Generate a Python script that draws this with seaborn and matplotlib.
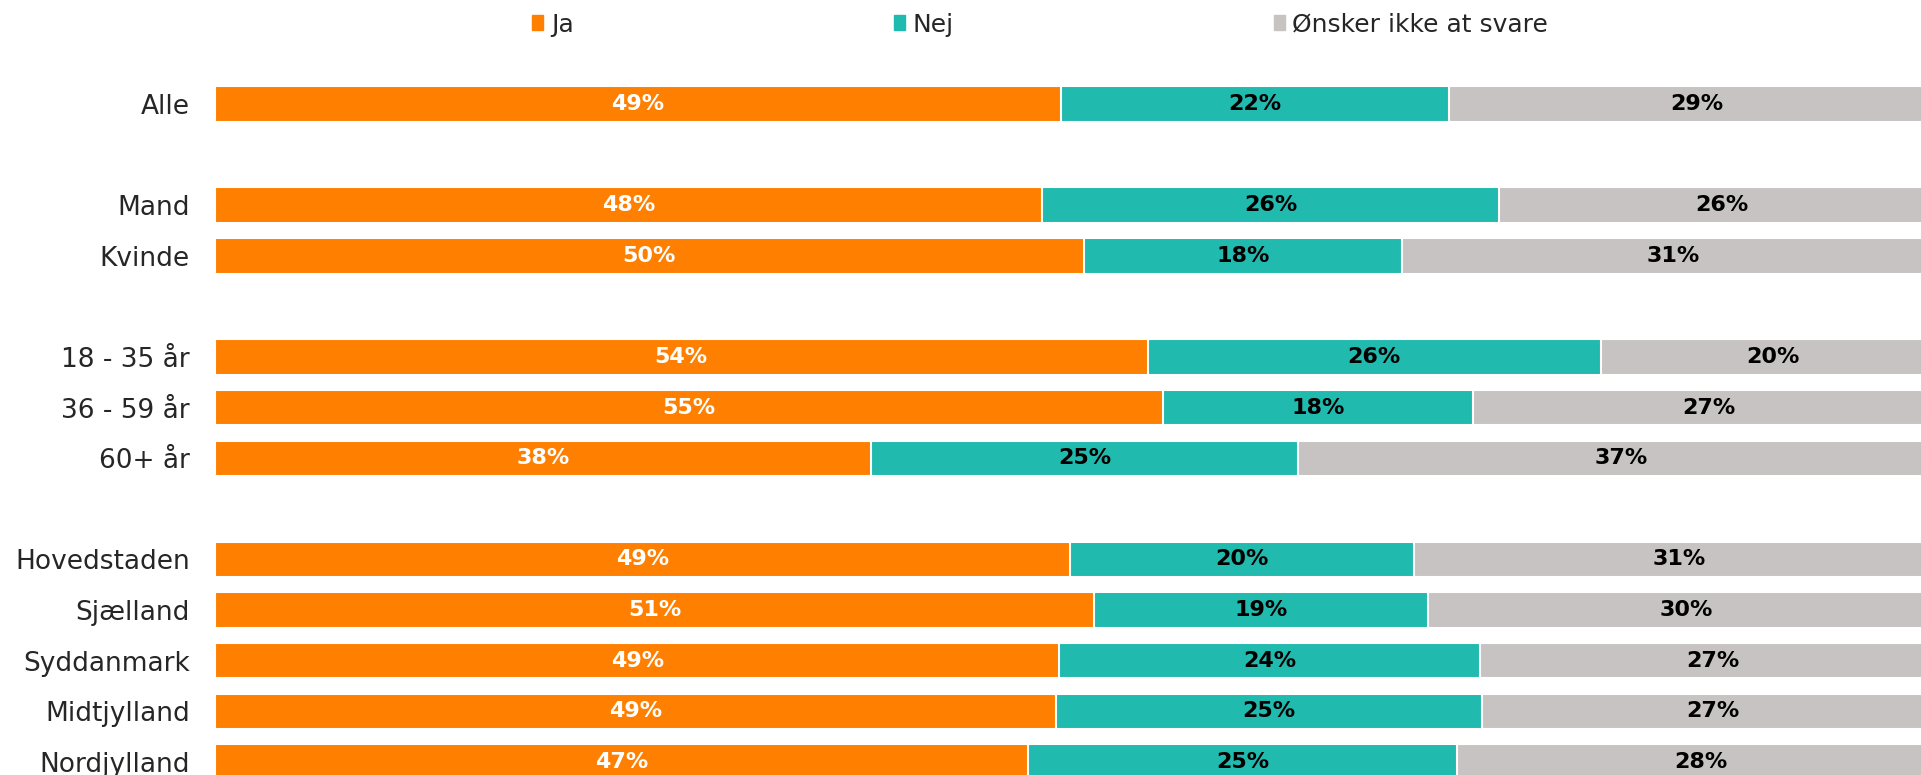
import pandas as pd
import matplotlib
matplotlib.use("Agg")
import matplotlib.pyplot as plt
import matplotlib.patches as mpatches
import seaborn as sns

# Categories (blank strings are the spacer rows between groups)
groups = ["Alle", " ", "Mand", "Kvinde", "  ", "18 - 35 år", "36 - 59 år", "60+ år", "   ",
          "Hovedstaden", "Sjælland", "Syddanmark", "Midtjylland", "Nordjylland"]
categories = ["Alle", "Mand", "Kvinde", "18 - 35 år", "36 - 59 år", "60+ år",
              "Hovedstaden", "Sjælland", "Syddanmark", "Midtjylland", "Nordjylland"]
ja = [48.9, 47.8, 50.2, 53.9, 54.8, 37.9, 49.4, 50.8, 48.8, 48.6, 47.0]
nej = [22.4, 26.4, 18.4, 26.2, 17.9, 24.7, 19.9, 19.3, 24.3, 24.6, 24.8]
oensker = [28.7, 25.8, 31.4, 19.9, 27.3, 37.4, 30.7, 29.9, 26.9, 26.8, 28.2]
series_names = ["Ja", "Nej", "Ønsker ikke at svare"]
colors = ["#FF7F00", "#21BAAE", "#C8C3C3"]
label_colors = ["white", "black", "black"]

df = pd.DataFrame({"gruppe": categories, "Ja": ja, "Nej": nej, "Ønsker ikke at svare": oensker})
df["c1"] = df["Ja"]
df["c2"] = df["Ja"] + df["Nej"]
df["c3"] = df["c2"] + df["Ønsker ikke at svare"]

sns.set_style("white")
plt.rcParams["font.family"] = ["DejaVu Sans"]

fig = plt.figure(figsize=(19.21, 7.75), dpi=100)
ax = fig.add_axes([215 / 1921, 0, 1 - 215 / 1921, 1])

# stacked bars: draw cumulative totals back to front
for col, color in zip(["c3", "c2", "c1"], colors[::-1]):
    sns.barplot(data=df, x=col, y="gruppe", order=groups, color=color, saturation=1, width=0.7,
                edgecolor="white", linewidth=1.5, orient="h", ax=ax)

# value labels centred in each segment
pos = {g: i for i, g in enumerate(groups)}
for _, row in df.iterrows():
    left = 0
    for name, lc in zip(series_names, label_colors):
        val = row[name]
        ax.text(left + val / 2, pos[row["gruppe"]], f"{round(val)}%", ha="center", va="center",
                color=lc, fontsize=16, fontweight="bold")
        left += val

ax.set_xlim(0, 98.6)
ax.set_ylim(13.26, -2.055)
ax.set_xlabel("")
ax.set_ylabel("")
ax.set_xticks([])
ax.tick_params(axis="y", length=0, pad=18, labelsize=19)
sns.despine(ax=ax, left=True, bottom=True)

handles = [mpatches.Patch(color=c, label=n) for c, n in zip(colors, series_names)]
fig.legend(handles=handles, loc="center", bbox_to_anchor=(0.5415, 0.968), ncol=3, frameon=False,
           fontsize=18, handlelength=0.45, handleheight=0.55, handletextpad=0.3, columnspacing=12.8)

fig.savefig("out.png", dpi=100)
